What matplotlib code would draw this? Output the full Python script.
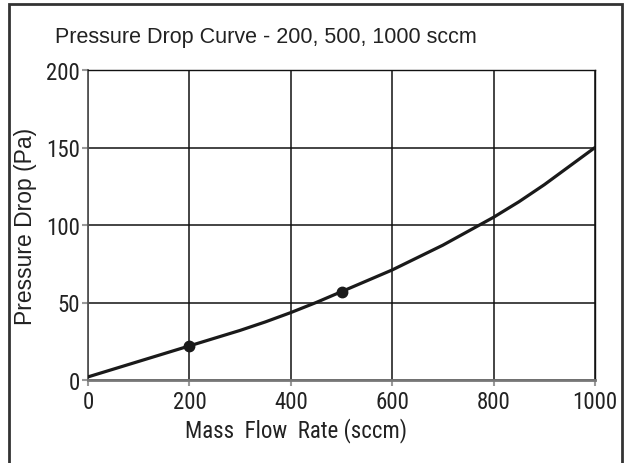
import matplotlib
matplotlib.use("Agg")
import matplotlib.pyplot as plt
from matplotlib.patches import Rectangle

# Data
flow = [0, 50, 100, 150, 200, 250, 300, 350, 400, 450, 500, 550, 600, 650, 700, 750, 800, 850, 900, 950, 1000]
pressure = [2, 7, 12, 17, 22, 27, 32, 37.5, 43.5, 50, 57, 64, 71, 79, 87, 96, 105, 115, 126, 138, 150]
pts_flow = [200, 500]
pts_pressure = [22, 57]
xticks = [0, 200, 400, 600, 800, 1000]
yticks = [0, 50, 100, 150, 200]

narrow = ["Roboto Condensed", "DejaVu Sans"]
reg = ["Liberation Sans", "DejaVu Sans"]

fig = plt.figure(figsize=(6.27, 4.64), dpi=100)
ax = fig.add_axes([88/627, 1-381/464, (595-88)/627, (381-71)/464])

txt = "#222222"
ax.plot(flow, pressure, color="#1a1a1a", lw=2.3, solid_capstyle="round", solid_joinstyle="round", zorder=3)
ax.plot(pts_flow, pts_pressure, "o", color="#1a1a1a", ms=7.5, zorder=4)

ax.set_xlim(0, 1000)
ax.set_ylim(0, 200)
ax.set_xticks(xticks)
ax.set_yticks(yticks)
ax.grid(True, color="#111111", lw=1.1)
ax.set_axisbelow(True)
for s in ["top", "right"]:
    ax.spines[s].set_color("#111111")
    ax.spines[s].set_linewidth(1.0)
ax.spines["left"].set_color("#555555")
ax.spines["left"].set_linewidth(1.3)
ax.spines["bottom"].set_color("#777777")
ax.spines["bottom"].set_linewidth(2.0)
ax.tick_params(axis="both", direction="out", length=4, width=1.5, color="#999999",
               labelcolor=txt, labelsize=16.5, pad=2)
ax.tick_params(axis="x", pad=3)
for lab in ax.get_xticklabels() + ax.get_yticklabels():
    lab.set_family(narrow)

ax.set_xlabel("Mass  Flow  Rate (sccm)", fontsize=16.5, family=narrow, color=txt)
ax.xaxis.set_label_coords((296-88)/507, (381-418)/310)
ax.set_ylabel("Pressure Drop (Pa)", fontsize=16.5, family=reg, color=txt)
ax.yaxis.set_label_coords((37-88)/507, 0.5)
fig.text(266/627, 1-37/464, "Pressure Drop Curve - 200, 500, 1000 sccm", ha="center", va="center",
         fontsize=15.5, family=reg, color=txt)

fig.patches.append(Rectangle((9/627, -0.02), (622-9)/627, 1-5/464+0.02, transform=fig.transFigure,
                             fill=False, edgecolor="#333333", lw=2.0))

fig.savefig("out.png", dpi=100)
